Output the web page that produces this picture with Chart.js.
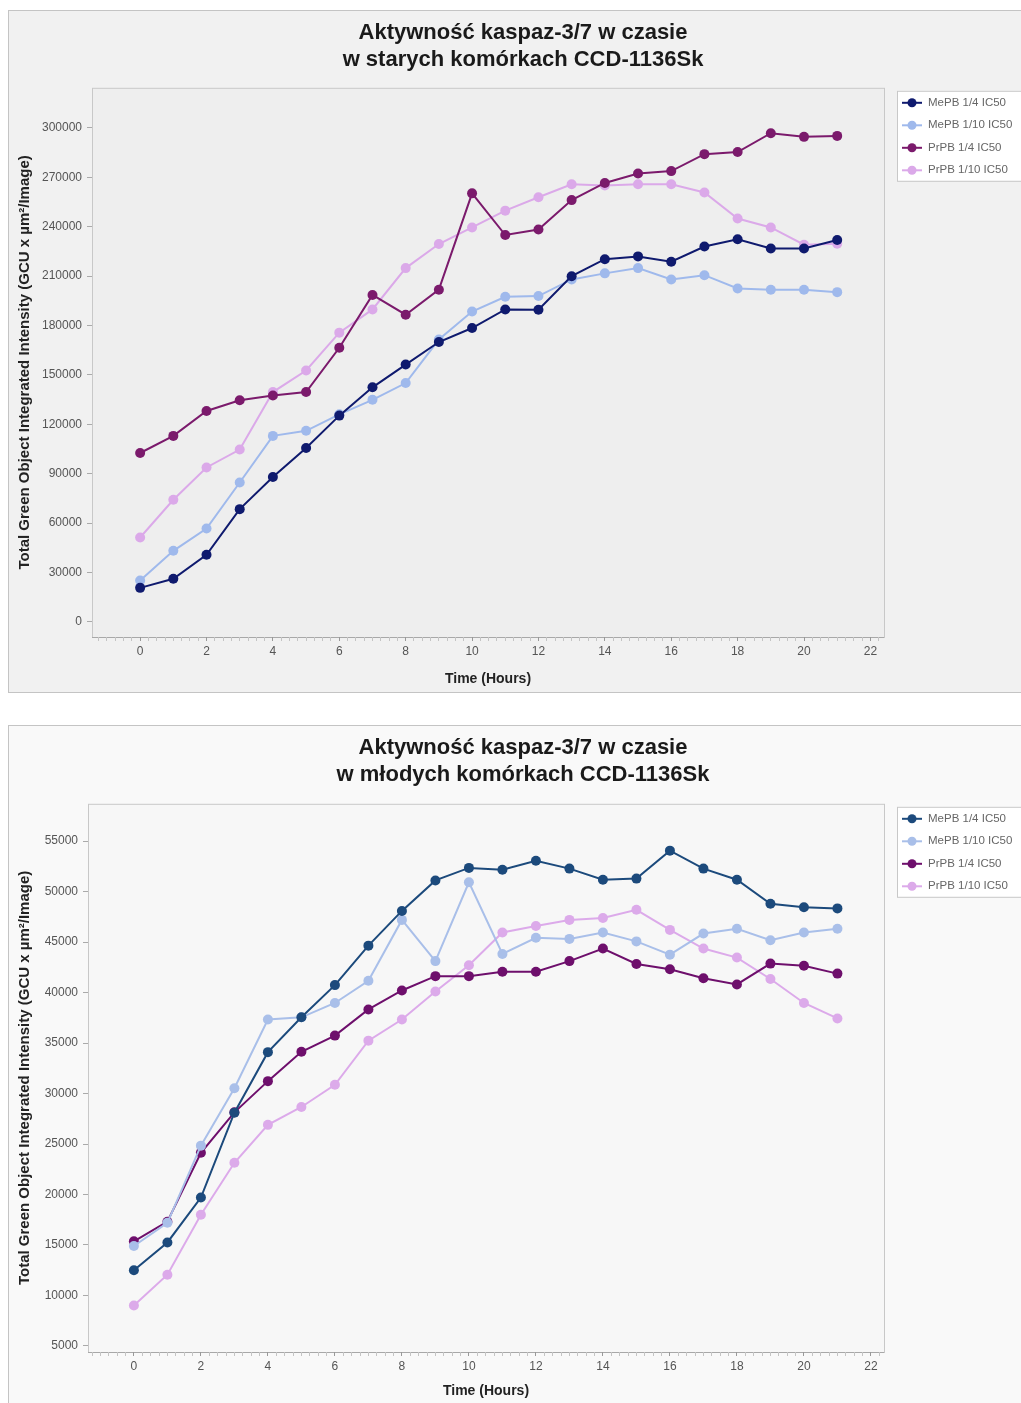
<!DOCTYPE html>
<html>
<head>
<meta charset="utf-8">
<script src="https://cdn.jsdelivr.net/npm/chart.js@4.4.0/dist/chart.umd.min.js"></script>
<style>
body{margin:0;background:#fff;width:1021px;height:1403px;overflow:hidden;position:relative}
.panel{position:absolute;left:8px;border:1px solid #c4c4c4;border-right:none}
#p1{top:10px;width:1013px;height:681px;background:#f1f1f1}
#p2{top:725px;width:1013px;height:700px;background:#f9f9f9}
canvas{display:block}
</style>
</head>
<body>
<div class="panel" id="p1"><canvas id="stare" width="1013" height="681"></canvas></div>
<div class="panel" id="p2"><canvas id="mlode" width="1013" height="678"></canvas></div>
<script>
const godziny = [0, 1, 2, 3, 4, 5, 6, 7, 8, 9, 10, 11, 12, 13, 14, 15, 16, 17, 18, 19, 20, 21]
const serie = ['MePB 1/4 IC50', 'MePB 1/10 IC50', 'PrPB 1/4 IC50', 'PrPB 1/10 IC50']
const tickiX = [0, 2, 4, 6, 8, 10, 12, 14, 16, 18, 20, 22]

// stare komorki
const stareTickiY = [0, 30000, 60000, 90000, 120000, 150000, 180000, 210000, 240000, 270000, 300000]
const stareMePB14 = [20700, 26200, 40800, 68500, 88000, 105600, 125300, 142500, 156300, 170000, 178500, 189800, 189600, 210000, 220300, 222000, 218800, 228000, 232400, 226800, 226800, 232000]
const stareMePB110 = [25100, 43200, 56700, 84700, 113000, 116100, 126100, 134900, 145100, 171500, 188500, 197500, 197900, 208000, 211700, 214900, 208000, 210600, 202500, 201800, 201800, 200300]
const starePrPB14 = [102600, 113000, 128100, 134600, 137500, 139600, 166500, 198600, 186600, 201800, 260300, 235000, 238300, 256200, 266600, 272300, 273800, 284100, 285400, 296800, 294600, 295200]
const starePrPB110 = [51300, 74200, 93800, 104700, 139600, 152700, 175700, 189800, 214900, 229500, 239600, 249800, 257900, 265800, 265100, 265800, 265800, 260800, 245000, 239600, 229100, 229700]

// mlode komorki
const mlodeTickiY = [5000, 10000, 15000, 20000, 25000, 30000, 35000, 40000, 45000, 50000, 55000]
const mlodeMePB14 = [12500, 15250, 19700, 28100, 34100, 37550, 40740, 44650, 48090, 51110, 52350, 52170, 53060, 52280, 51180, 51290, 54060, 52280, 51180, 48800, 48450, 48340]
const mlodeMePB110 = [14900, 17200, 24840, 30520, 37330, 37550, 38970, 41170, 47200, 43120, 50930, 43830, 45430, 45320, 45960, 45070, 43760, 45850, 46320, 45180, 45960, 46320]
const mlodePrPB14 = [15360, 17310, 24130, 28140, 31230, 34140, 35740, 38330, 40210, 41630, 41630, 42060, 42060, 43120, 44360, 42840, 42310, 41420, 40810, 42870, 42660, 41880]
const mlodePrPB110 = [9000, 12060, 17990, 23140, 26900, 28670, 30870, 35240, 37330, 40100, 42700, 45960, 46600, 47200, 47380, 48200, 46210, 44360, 43470, 41350, 38970, 37440]

const kolorySTARE = ['#0f1a6e', '#9fb9ec', '#7b1a6c', '#dba9e9']
const koloryMLODE = ['#1c4a7c', '#a9bfe9', '#6e0f6c', '#dcaaea']

Chart.defaults.font.family = '"Liberation Sans", Arial, sans-serif'

const tloWykresu = {
    id: 'tloWykresu',
    beforeDraw(chart, args, opts) {
        const a = chart.chartArea
        const ctx = chart.ctx
        ctx.save()
        ctx.fillStyle = opts.color
        ctx.fillRect(a.left, a.top, a.right - a.left, a.bottom - a.top)
        ctx.strokeStyle = '#c8c8c8'
        ctx.lineWidth = 1
        ctx.strokeRect(a.left + 0.5, a.top + 0.5, a.right - a.left, a.bottom - a.top)
        ctx.strokeStyle = '#a8a8a8'
        ctx.beginPath()
        ctx.moveTo(a.left, a.bottom + 0.5)
        ctx.lineTo(a.right, a.bottom + 0.5)
        ctx.stroke()
        ctx.restore()
    }
}

const legenda = {
    id: 'legenda',
    afterDraw(chart, args, opts) {
        const ctx = chart.ctx
        const x = chart.chartArea.right + 13
        const y = chart.chartArea.top + opts.top
        ctx.save()
        ctx.fillStyle = '#ffffff'
        ctx.fillRect(x, y, 140, opts.height)
        ctx.strokeStyle = '#c8c8c8'
        ctx.strokeRect(x + 0.5, y + 0.5, 140, opts.height)
        ctx.font = '11.5px "Liberation Sans", Arial, sans-serif'
        ctx.textBaseline = 'middle'
        chart.data.datasets.forEach((ds, i) => {
            const cy = y + 12 + i * 22.5
            ctx.strokeStyle = ds.borderColor
            ctx.lineWidth = 2
            ctx.beginPath()
            ctx.moveTo(x + 5, cy)
            ctx.lineTo(x + 25, cy)
            ctx.stroke()
            ctx.fillStyle = ds.borderColor
            ctx.beginPath()
            ctx.arc(x + 15, cy, 4.5, 0, Math.PI * 2)
            ctx.fill()
            ctx.fillStyle = '#666'
            ctx.fillText(ds.label, x + 31, cy)
        })
        ctx.restore()
    }
}

// glowne ticki z etykietami + drobne co 0.25 h
function tickiOsiX(s) {
    const lista = []
    for (let v = Math.ceil(s.min * 4) / 4; v <= s.max; v += 0.25) lista.push({ value: v })
    s.ticks = lista
}

function zrobWykres(id, tytul, dane, kolory, tickiY, skalaY, skalaX, tlo) {
    const datasets = dane.map((d, i) => ({
        label: serie[i],
        data: godziny.map((h, j) => ({ x: h, y: d[j] })),
        borderColor: kolory[i],
        backgroundColor: kolory[i],
        borderWidth: 2,
        pointRadius: 5,
        pointHoverRadius: 5,
        pointBorderWidth: 0,
        tension: 0
    }))

    return new Chart(document.getElementById(id).getContext('2d'), {
        type: 'line',
        data: { datasets: datasets },
        plugins: [tloWykresu, legenda],
        options: {
            responsive: false,
            animation: false,
            layout: { padding: { left: 0, right: -15, top: 0, bottom: 0 } },
            plugins: {
                legend: { display: false },
                tooltip: { enabled: false },
                title: {
                    display: true,
                    text: tytul,
                    color: '#1a1a1a',
                    font: { size: 22, weight: 'bold' },
                    padding: { top: 9, bottom: skalaY[3] - 64 }
                },
                tloWykresu: { color: tlo },
                legenda: { top: 3, height: 90 }
            },
            scales: {
                x: {
                    type: 'linear',
                    min: skalaX[0],
                    max: skalaX[1],
                    afterFit: s => { s.height = skalaX[2] },
                    afterBuildTicks: tickiOsiX,
                    ticks: {
                        color: '#555', font: { size: 12 }, padding: 3, autoSkip: false, maxRotation: 0,
                        callback: v => tickiX.includes(v) ? v : ''
                    },
                    grid: {
                        drawOnChartArea: false, tickLength: 4,
                        tickColor: c => tickiX.includes(c.tick.value) ? '#999' : '#c4c4c4'
                    },
                    border: { display: false },
                    title: { display: true, text: 'Time (Hours)', color: '#222', font: { size: 14, weight: 'bold' }, padding: { top: 2 } }
                },
                y: {
                    min: skalaY[0],
                    max: skalaY[1],
                    afterFit: s => { s.width = skalaY[2] },
                    afterBuildTicks: s => { s.ticks = tickiY.map(v => ({ value: v })) },
                    ticks: { color: '#555', font: { size: 12 }, padding: 5, callback: v => v },
                    grid: { drawOnChartArea: false, tickLength: 5, color: '#aaa' },
                    border: { display: false },
                    title: { display: true, text: 'Total Green Object Integrated Intensity (GCU x µm²/Image)', color: '#222', font: { size: 15, weight: 'bold' }, padding: { top: 7, bottom: 2 } }
                },
                // pusta os - miejsce na legende
                miejsce: {
                    position: 'right',
                    afterFit: s => { s.width = 153 },
                    ticks: { display: false },
                    grid: { display: false },
                    border: { display: false }
                }
            }
        }
    })
}

zrobWykres('stare', ['Aktywność kaspaz-3/7 w czasie', 'w starych komórkach CCD-1136Sk'],
    [stareMePB14, stareMePB110, starePrPB14, starePrPB110], kolorySTARE, stareTickiY,
    [-9150, 324400, 83, 79], [-1.45, 22.41, 55], '#eeeeee')

zrobWykres('mlode', ['Aktywność kaspaz-3/7 w czasie', 'w młodych komórkach CCD-1136Sk'],
    [mlodeMePB14, mlodeMePB110, mlodePrPB14, mlodePrPB110], koloryMLODE, mlodeTickiY,
    [4400, 58700, 79, 80], [-1.37, 22.39, 52], '#f7f7f7')
</script>
</body>
</html>
